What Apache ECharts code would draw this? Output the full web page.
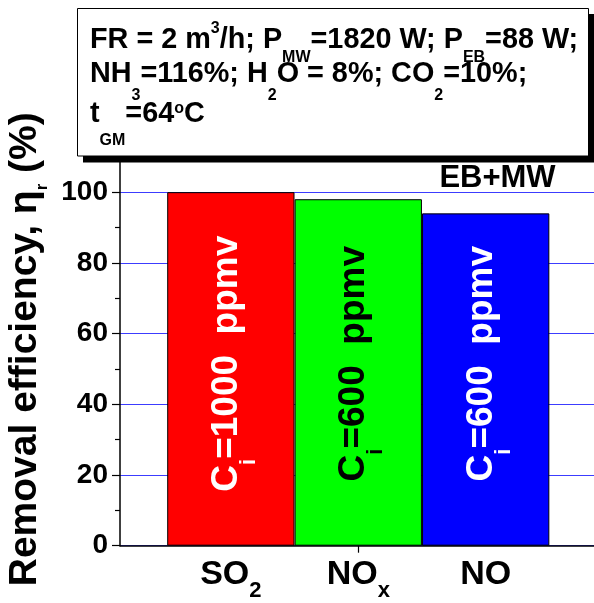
<!DOCTYPE html>
<html><head><meta charset="utf-8">
<script src="https://cdn.jsdelivr.net/npm/echarts@6/dist/echarts.min.js"></script>
<style>html,body{margin:0;padding:0;background:#fff}#c{width:594px;height:603px}</style>
</head><body><div id="c"></div>
<script>
// ---- data ----
const categoryLabels = ['SO{sub|2}', 'NO{sub|x}', 'NO'];
const categoryPositions = [1, 2, 3];
const removalEfficiency = [100, 98, 94];
const inletConcentration = ['1000', '600', '600'];
const barColors = ['#ff0000', '#00ff00', '#0000ff'];
const barTextColors = ['#ffffff', '#000000', '#ffffff'];
const yMajorTicks = [0, 20, 40, 60, 80, 100];
const yMinorTicks = [10, 30, 50, 70, 90];
const yAxisTitle = 'Removal efficiency, η{sub|r} (%)';
const infoLines = [
  'FR = 2 m{sup|3}/h; P{sub|MW}=1820 W; P{sub|EB}=88 W;',
  'NH{sub|3}=116%; H{sub|2}O = 8%; CO{sub|2}=10%;',
  't{sub|GM}=64{sup|o}C'
];
const methodLabel = 'EB+MW';

// ---- helpers ----
const FONT = '"Liberation Sans", Arial, sans-serif';
function wrap(s) {
  const out = [];
  const re = /\{(\w+)\|([^}]*)\}/g;
  let last = 0, mt;
  while ((mt = re.exec(s)) !== null) {
    if (mt.index > last) out.push('{m|' + s.slice(last, mt.index) + '}');
    out.push(mt[0]);
    last = re.lastIndex;
  }
  if (last < s.length) out.push('{m|' + s.slice(last) + '}');
  return out.join('');
}
function richSet(F, f, H, color, supPad) {
  const base = {fontFamily: FONT, fontWeight: 'bold', color: color};
  return {
    m: Object.assign({}, base, {fontSize: F, lineHeight: H}),
    sub: Object.assign({}, base, {fontSize: f, lineHeight: f, verticalAlign: 'bottom'}),
    sup: Object.assign({}, base, {fontSize: f, lineHeight: f, verticalAlign: 'top', padding: [supPad || 0, 0, 0, 0]})
  };
}

const chart = echarts.init(document.getElementById('c'), null, {renderer: 'canvas'});

const lineTops = [15.3, 43.7, 79.2];
const lineH = [50, 60, 69];
const lineSupPad = [5, 0, 21];

const graphics = [
  {type: 'rect', z: 100, shape: {x: 83, y: 14, width: 520, height: 148.5}, style: {fill: '#000'}},
  {type: 'rect', z: 101, shape: {x: 77.5, y: 8.5, width: 511, height: 147.5}, style: {fill: '#fff', stroke: '#000', lineWidth: 1}},
  {type: 'rect', z: 101, shape: {x: 428, y: 163, width: 138, height: 28}, style: {fill: '#fff'}},
  {type: 'text', z: 102, x: 497.5, y: 178, style: {text: methodLabel, font: 'bold 31px ' + FONT, fill: '#000', align: 'center', verticalAlign: 'middle'}}
];
infoLines.forEach((t, i) => {
  graphics.push({type: 'text', z: 102, x: 90, y: lineTops[i],
    style: {text: wrap(t), align: 'left', verticalAlign: 'top', fill: '#000',
      rich: richSet(28.8, 16, lineH[i], '#000', lineSupPad[i])}});
});

const option = {
  animation: false,
  backgroundColor: '#fff',
  grid: {left: 120, right: 0, top: 156.8, bottom: 57.3, outerBoundsMode: 'none', containLabel: false},
  xAxis: {
    type: 'value', min: 0.13, max: 3.85,
    axisLine: {onZero: false, lineStyle: {color: '#000', width: 1.5}},
    axisTick: {customValues: [2], length: 7, lineStyle: {color: '#000', width: 1.2}},
    splitLine: {show: false},
    axisLabel: {
      customValues: categoryPositions, margin: 2,
      formatter: v => wrap(categoryLabels[categoryPositions.indexOf(v)]),
      rich: richSet(34, 22, 54, '#000')
    }
  },
  yAxis: [{
    type: 'value', min: 0, max: 110, interval: 20,
    axisLine: {show: true, onZero: false, lineStyle: {color: '#000', width: 1.5}},
    axisTick: {show: true, length: 8, inside: false, lineStyle: {color: '#000', width: 1.2}},
    splitLine: {show: true, lineStyle: {color: '#3c3cff', width: 1, type: 'solid'}},
    axisLabel: {
      margin: 12, fontFamily: FONT, fontWeight: 'bold', fontSize: 28, color: '#000',
      formatter: v => (yMajorTicks.indexOf(v) >= 0 ? String(v) : '')
    },
    name: wrap(yAxisTitle), nameLocation: 'middle', nameGap: 65, nameRotate: 90,
    nameTextStyle: {rich: richSet(39, 17, 50, '#000'), padding: [0, 0, 0, 4]}
  }, {
    type: 'value', min: 0, max: 110, position: 'left',
    axisLine: {show: false},
    axisTick: {show: true, customValues: yMinorTicks, length: 5, lineStyle: {color: '#000', width: 1.2}},
    axisLabel: {show: false},
    splitLine: {show: false}
  }],
  series: [{
    type: 'bar',
    yAxisIndex: 0,
    barWidth: 127.3,
    data: categoryPositions.map((p, i) => ({
      value: [p, removalEfficiency[i]],
      itemStyle: {color: barColors[i]},
      label: {rich: richSet(37, 22, 66, barTextColors[i])}
    })),
    itemStyle: {borderColor: '#000', borderWidth: 1},
    label: {
      show: true, position: 'insideBottom', distance: 182, rotate: 90,
      align: 'center', verticalAlign: 'middle', padding: [0, 0, 8, 0],
      formatter: p => '{m|C}{sub|i}{m|=' + inletConcentration[p.dataIndex] + '  ppmv}'
    }
  }],
  graphic: graphics
};
chart.setOption(option);
</script>
</body></html>
